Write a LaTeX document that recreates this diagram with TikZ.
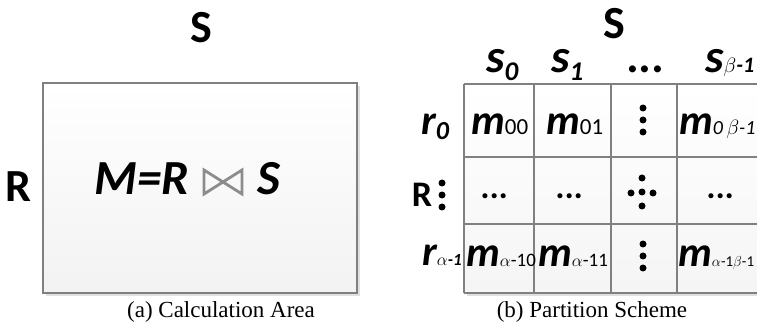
\documentclass[tikz,border=0pt]{standalone}
\usepackage{fontspec}
\setmainfont{Liberation Serif}
\newfontfamily\cali{Carlito}
\usepackage{tikz}
\tikzset{
  px/.style={x=1pt, y=-1pt},
  boxln/.style={draw=black!50, line width=1.6pt},
  shadow/.style={fill=black!12, draw=none},
  gridln/.style={draw=black!50, line width=1.6pt},
  big/.style={inner sep=0pt, font=\cali\bfseries\fontsize{46}{48}\selectfont},
  bi/.style={inner sep=0pt, anchor=base west, font=\cali\bfseries\itshape\fontsize{42}{44}\selectfont},
  head/.style={bi, font=\cali\bfseries\itshape\fontsize{47}{49}\selectfont},
  formula/.style={bi, font=\cali\bfseries\itshape\fontsize{49}{51}\selectfont},
  hdots/.style={bi, font=\cali\bfseries\itshape\fontsize{34}{36}\selectfont},
  captxt/.style={inner sep=0pt, font=\fontsize{23}{25}\selectfont},
  bowtie/.style={draw=black!45, line width=2.8pt, line join=miter},
  dot/.style={fill=black, draw=none},
}
% subscripts: small upright, small bold italic (lowered), small greek
\newcommand{\ssub}[2]{{\mdseries\upshape\fontsize{#1}{#1}\selectfont #2}}
\newcommand{\bsub}[3]{\raisebox{#1}{\fontsize{#2}{#2}\selectfont #3}}
\newcommand{\gsub}[2]{{\mdseries\upshape\fontsize{#1}{#1}\selectfont$#2$}}

\begin{document}
\begin{tikzpicture}[px]
  \useasboundingbox (0,0) rectangle (757,328);
  \clip (0,0) rectangle (757,328);

  % --- (a) calculation area ---
  \fill[shadow] (46,86) rectangle (360,296);
  \shade[top color=white, bottom color=black!5] (43,83) rectangle (357,293);
  \draw[boxln] (43,83) rectangle (357,293);
  \node[big] (sa) at (201,28) {S};
  \node[big] (ra) at (18,187) {R};
  \node[formula] (join) at (94,195) {M=R};
  \draw[bowtie] (204,170) -- (204,194) -- (242,170) -- (242,194) -- cycle;
  \node[formula] (sj) at (257,195) {S};
  \node[captxt] (capa) at (221,312) {(a) Calculation Area};

  % --- (b) partition scheme: grid ---
  \fill[shadow] (467,87) rectangle (757,296);
  \shade[top color=white, bottom color=black!4] (464,84) rectangle (757,293);
  \draw[gridln] (464,84) -- (757,84);
  \draw[gridln] (464,157) -- (757,157);
  \draw[gridln] (464,224) -- (757,224);
  \draw[gridln] (464,293) -- (757,293);
  \draw[gridln] (464,84) -- (464,293);
  \draw[gridln] (534,84) -- (534,293);
  \draw[gridln] (611,84) -- (611,293);
  \draw[gridln] (677,84) -- (677,293);

  % --- (b) headers ---
  \node[big] (sb) at (614,24) {S};
  \node[head] (s0) at (486,73) {s\bsub{-8pt}{27}{0}};
  \node[head] (s1) at (551,73) {s\bsub{-8pt}{27}{1}};
  \node[head] (sd) at (627,73) {...};
  \node[head] (sn) at (705,73) {s\gsub{22}{\beta}\bsub{0pt}{22}{-1}};
  \node[big, font=\cali\bfseries\fontsize{36}{38}\selectfont] (rb) at (422,195) {R};
  \fill[dot] (442,183) circle (3.5pt) (442,195) circle (3.5pt) (442,207) circle (3.5pt);
  \node[bi] (r0) at (421,135) {r\bsub{-5pt}{26}{0}};
  \node[bi] (rn) at (422,266) {r\gsub{16}{\alpha}\bsub{0pt}{17}{-1}};

  % --- (b) cells ---
  \node[bi] (m00) at (471,135) {m\ssub{23}{00}};
  \node[bi] (m01) at (546,135) {m\ssub{23}{01}};
  \node[bi] (m0n) at (679,135) {m\ssub{20}{\itshape 0$\,\beta$-1}};
  \node[hdots] (d10) at (481,199) {...};
  \node[hdots] (d11) at (556,199) {...};
  \node[hdots] (d1n) at (707,199) {...};
  \node[bi] (mn0) at (466,267) {m\gsub{18}{\alpha}\ssub{19}{-10}};
  \node[bi] (mn1) at (538,267) {m\gsub{18}{\alpha}\ssub{19}{-11}};
  \node[bi] (mnn) at (678,267) {m\gsub{15}{\alpha}\ssub{15}{-1$\beta$-1}};
  % vertical dots in the third column
  \fill[dot] (643,108) circle (3.5pt) (643,120) circle (3.5pt) (643,132) circle (3.5pt);
  \fill[dot] (642,178) circle (3.5pt) (642,192) circle (3.5pt) (642,206) circle (3.5pt)
             (631,193) circle (3.5pt) (653,193) circle (3.5pt);
  \fill[dot] (643,244) circle (3.5pt) (643,256) circle (3.5pt) (643,268) circle (3.5pt);
  \node[captxt] (capb) at (592,312) {(b) Partition Scheme};
\end{tikzpicture}
\end{document}
